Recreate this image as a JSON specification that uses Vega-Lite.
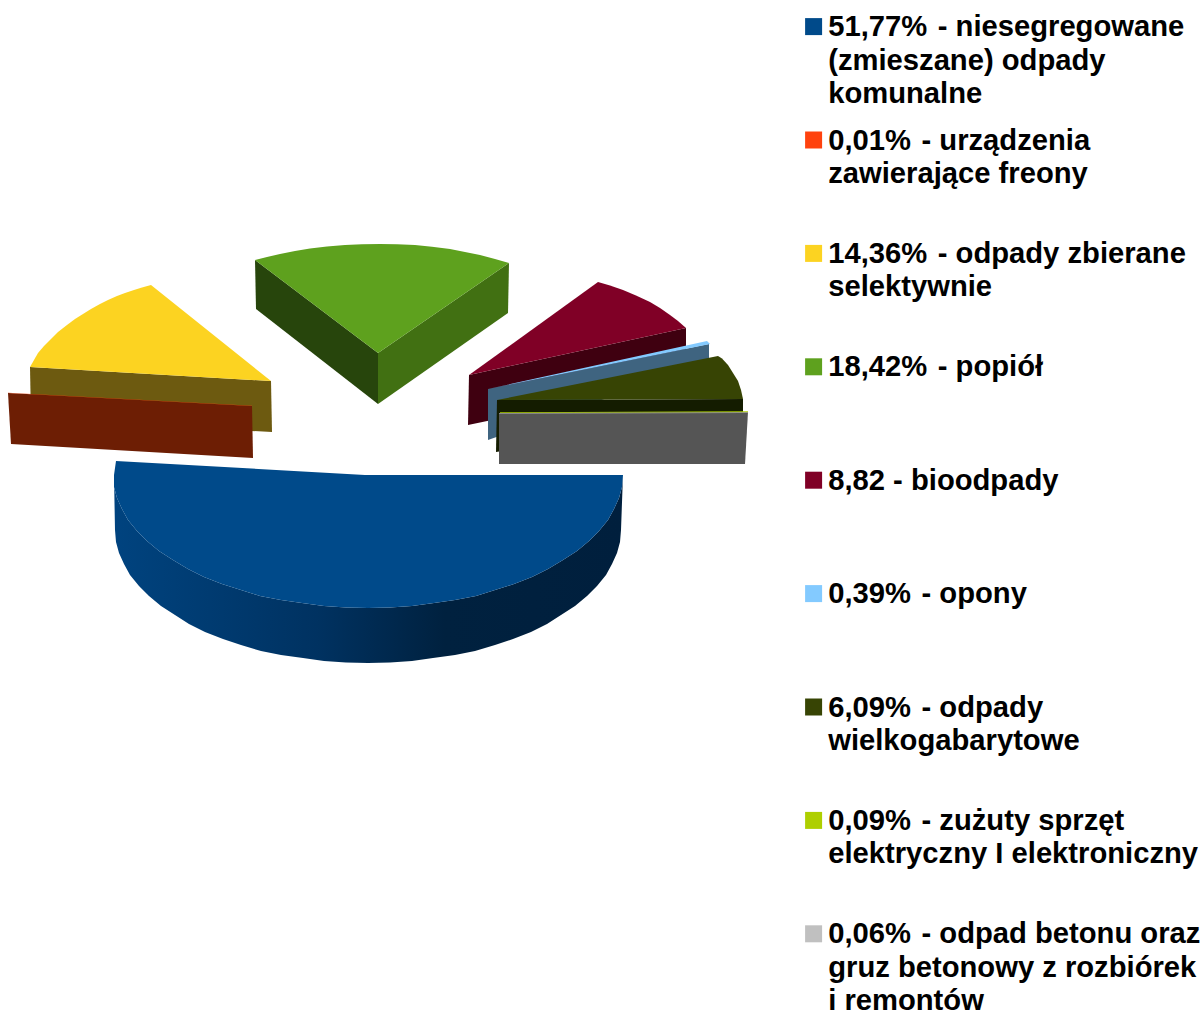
{
"$schema":"https://vega.github.io/schema/vega-lite/v6.json",
"width":1204,"height":1012,"padding":0,"autosize":{"type":"none"},
"background":"white",
"config":{"view":{"stroke":null}},
"datasets":{
"slices":[
{"s":"a","share":51.77,"label":"51,77% \u200a- niesegregowane\n(zmieszane) odpady\nkomunalne"},
{"s":"b","share":0.01,"label":"0,01% \u200a- urządzenia\nzawierające freony"},
{"s":"c","share":14.36,"label":"14,36% \u200a- odpady zbierane\nselektywnie"},
{"s":"d","share":18.42,"label":"18,42% \u200a- popiół"},
{"s":"e","share":8.82,"label":"8,82 - bioodpady"},
{"s":"f","share":0.39,"label":"0,39% \u200a- opony"},
{"s":"g","share":6.09,"label":"6,09% \u200a- odpady\nwielkogabarytowe"},
{"s":"h","share":0.09,"label":"0,09% \u200a- zużuty sprzęt\nelektryczny I elektroniczny"},
{"s":"i","share":0.06,"label":"0,06% \u200a- odpad betonu oraz\ngruz betonowy z rozbiórek\ni remontów"}
],
"blueSide":[
{"o":0,"x":623,"y":475},{"o":1,"x":622,"y":487},{"o":2,"x":619,"y":498},{"o":3,"x":614,"y":509},{"o":4,"x":608,"y":520},{"o":5,"x":599,"y":531},{"o":6,"x":589,"y":541},{"o":7,"x":577,"y":551},{"o":8,"x":563,"y":560},{"o":9,"x":548,"y":569},{"o":10,"x":532,"y":577},{"o":11,"x":514,"y":584},{"o":12,"x":495,"y":590},{"o":13,"x":476,"y":596},{"o":14,"x":455,"y":600},{"o":15,"x":434,"y":603},{"o":16,"x":412,"y":606},{"o":17,"x":390,"y":607.5},{"o":18,"x":368,"y":608},{"o":19,"x":346,"y":607.5},{"o":20,"x":324,"y":606},{"o":21,"x":302,"y":603},{"o":22,"x":281,"y":600},{"o":23,"x":260,"y":596},{"o":24,"x":241,"y":590},{"o":25,"x":222,"y":584},{"o":26,"x":204,"y":577},{"o":27,"x":188,"y":569},{"o":28,"x":173,"y":560},{"o":29,"x":159,"y":551},{"o":30,"x":147,"y":541},{"o":31,"x":137,"y":531},{"o":32,"x":128,"y":520},{"o":33,"x":122,"y":509},{"o":34,"x":117,"y":498},{"o":35,"x":114,"y":487},{"o":36,"x":114,"y":475},
{"o":37,"x":115,"y":530},{"o":38,"x":116,"y":542},{"o":39,"x":119,"y":553},{"o":40,"x":124,"y":564},{"o":41,"x":130,"y":575},{"o":42,"x":139,"y":586},{"o":43,"x":149,"y":596},{"o":44,"x":161,"y":606},{"o":45,"x":175,"y":615},{"o":46,"x":189,"y":624},{"o":47,"x":205,"y":632},{"o":48,"x":223,"y":639},{"o":49,"x":241,"y":645},{"o":50,"x":261,"y":651},{"o":51,"x":281,"y":655},{"o":52,"x":303,"y":658},{"o":53,"x":324,"y":661},{"o":54,"x":346,"y":662.5},{"o":55,"x":368,"y":663},{"o":56,"x":390,"y":662.5},{"o":57,"x":412,"y":661},{"o":58,"x":433,"y":658},{"o":59,"x":455,"y":655},{"o":60,"x":475,"y":651},{"o":61,"x":495,"y":645},{"o":62,"x":513,"y":639},{"o":63,"x":531,"y":632},{"o":64,"x":547,"y":624},{"o":65,"x":561,"y":615},{"o":66,"x":575,"y":606},{"o":67,"x":587,"y":596},{"o":68,"x":597,"y":586},{"o":69,"x":606,"y":575},{"o":70,"x":612,"y":564},{"o":71,"x":617,"y":553},{"o":72,"x":620,"y":542},{"o":73,"x":621,"y":530}
],
"sides":[
{"p":"yellow","o":0,"x":30,"y":367},{"p":"yellow","o":1,"x":271,"y":381},{"p":"yellow","o":2,"x":272,"y":432},{"p":"yellow","o":3,"x":31,"y":420},
{"p":"orange","o":0,"x":8,"y":393},{"p":"orange","o":1,"x":252,"y":406},{"p":"orange","o":2,"x":253,"y":458},{"p":"orange","o":3,"x":11,"y":444},
{"p":"greenL","o":0,"x":255,"y":260},{"p":"greenL","o":1,"x":378,"y":353},{"p":"greenL","o":2,"x":378,"y":404},{"p":"greenL","o":3,"x":256,"y":309},
{"p":"greenR","o":0,"x":378,"y":353},{"p":"greenR","o":1,"x":509,"y":263},{"p":"greenR","o":2,"x":508,"y":313},{"p":"greenR","o":3,"x":378,"y":404},
{"p":"maroon","o":0,"x":469,"y":375},{"p":"maroon","o":1,"x":686,"y":328},{"p":"maroon","o":2,"x":686,"y":380},{"p":"maroon","o":3,"x":468,"y":425},
{"p":"sky","o":0,"x":488,"y":389},{"p":"sky","o":1,"x":709,"y":344},{"p":"sky","o":2,"x":709,"y":362},{"p":"sky","o":3,"x":488,"y":440},
{"p":"olive","o":0,"x":497,"y":400},{"p":"olive","o":1,"x":743,"y":399},{"p":"olive","o":2,"x":743,"y":412},{"p":"olive","o":3,"x":496,"y":452},
{"p":"grey","o":0,"x":499,"y":413},{"p":"grey","o":1,"x":748,"y":412},{"p":"grey","o":2,"x":745,"y":464},{"p":"grey","o":3,"x":499,"y":464}
],
"tops":[
{"s":"a","o":0,"x":116,"y":461},{"s":"a","o":1,"x":365,"y":475},{"s":"a","o":2,"x":623,"y":475},{"s":"a","o":3,"x":622,"y":487},{"s":"a","o":4,"x":619,"y":498},{"s":"a","o":5,"x":614,"y":509},{"s":"a","o":6,"x":608,"y":520},{"s":"a","o":7,"x":599,"y":531},{"s":"a","o":8,"x":589,"y":541},{"s":"a","o":9,"x":577,"y":551},{"s":"a","o":10,"x":563,"y":560},{"s":"a","o":11,"x":548,"y":569},{"s":"a","o":12,"x":532,"y":577},{"s":"a","o":13,"x":514,"y":584},{"s":"a","o":14,"x":495,"y":590},{"s":"a","o":15,"x":476,"y":596},{"s":"a","o":16,"x":455,"y":600},{"s":"a","o":17,"x":434,"y":603},{"s":"a","o":18,"x":412,"y":606},{"s":"a","o":19,"x":390,"y":607.5},{"s":"a","o":20,"x":368,"y":608},{"s":"a","o":21,"x":346,"y":607.5},{"s":"a","o":22,"x":324,"y":606},{"s":"a","o":23,"x":302,"y":603},{"s":"a","o":24,"x":281,"y":600},{"s":"a","o":25,"x":260,"y":596},{"s":"a","o":26,"x":241,"y":590},{"s":"a","o":27,"x":222,"y":584},{"s":"a","o":28,"x":204,"y":577},{"s":"a","o":29,"x":188,"y":569},{"s":"a","o":30,"x":173,"y":560},{"s":"a","o":31,"x":159,"y":551},{"s":"a","o":32,"x":147,"y":541},{"s":"a","o":33,"x":137,"y":531},{"s":"a","o":34,"x":128,"y":520},{"s":"a","o":35,"x":122,"y":509},{"s":"a","o":36,"x":117,"y":498},{"s":"a","o":37,"x":114,"y":487},{"s":"a","o":38,"x":114,"y":475},
{"s":"b","o":0,"x":8,"y":392.8},{"s":"b","o":1,"x":252,"y":405.8},{"s":"b","o":2,"x":252,"y":406},{"s":"b","o":3,"x":8,"y":393},
{"s":"c","o":0,"x":30,"y":367},{"s":"c","o":1,"x":34,"y":360},{"s":"c","o":2,"x":38,"y":353},{"s":"c","o":3,"x":44,"y":346},{"s":"c","o":4,"x":50,"y":340},{"s":"c","o":5,"x":58,"y":332},{"s":"c","o":6,"x":67,"y":325},{"s":"c","o":7,"x":75,"y":319},{"s":"c","o":8,"x":83,"y":314},{"s":"c","o":9,"x":91,"y":309},{"s":"c","o":10,"x":100,"y":304},{"s":"c","o":11,"x":108,"y":300},{"s":"c","o":12,"x":117,"y":296},{"s":"c","o":13,"x":125,"y":293},{"s":"c","o":14,"x":134,"y":290},{"s":"c","o":15,"x":142,"y":287.5},{"s":"c","o":16,"x":151,"y":285},{"s":"c","o":17,"x":271,"y":381},
{"s":"d","o":0,"x":255,"y":260},{"s":"d","o":1,"x":267,"y":257},{"s":"d","o":2,"x":280,"y":254},{"s":"d","o":3,"x":295,"y":251},{"s":"d","o":4,"x":310,"y":248.5},{"s":"d","o":5,"x":327,"y":246.5},{"s":"d","o":6,"x":345,"y":245},{"s":"d","o":7,"x":362,"y":244.3},{"s":"d","o":8,"x":380,"y":244},{"s":"d","o":9,"x":397,"y":244.3},{"s":"d","o":10,"x":415,"y":245},{"s":"d","o":11,"x":432,"y":246.8},{"s":"d","o":12,"x":450,"y":249},{"s":"d","o":13,"x":465,"y":252},{"s":"d","o":14,"x":480,"y":255},{"s":"d","o":15,"x":495,"y":259},{"s":"d","o":16,"x":509,"y":263},{"s":"d","o":17,"x":378,"y":353},
{"s":"e","o":0,"x":469,"y":375},{"s":"e","o":1,"x":598,"y":282},{"s":"e","o":2,"x":610,"y":285.5},{"s":"e","o":3,"x":623,"y":290},{"s":"e","o":4,"x":636,"y":295.5},{"s":"e","o":5,"x":650,"y":302},{"s":"e","o":6,"x":660,"y":308},{"s":"e","o":7,"x":670,"y":315},{"s":"e","o":8,"x":678,"y":321},{"s":"e","o":9,"x":686,"y":328},
{"s":"f","o":0,"x":488,"y":389},{"s":"f","o":1,"x":707,"y":341},{"s":"f","o":2,"x":710,"y":344},
{"s":"g","o":0,"x":497,"y":400},{"s":"g","o":1,"x":718,"y":356},{"s":"g","o":2,"x":722,"y":358.5},{"s":"g","o":3,"x":728,"y":365},{"s":"g","o":4,"x":733,"y":373},{"s":"g","o":5,"x":738,"y":381},{"s":"g","o":6,"x":741,"y":390},{"s":"g","o":7,"x":743,"y":399},
{"s":"h","o":0,"x":500,"y":412.2},{"s":"h","o":1,"x":748,"y":411.2},{"s":"h","o":2,"x":748,"y":412.2},{"s":"h","o":3,"x":500,"y":413},
{"s":"i","o":0,"x":499,"y":413},{"s":"i","o":1,"x":748,"y":412.5},{"s":"i","o":2,"x":748,"y":413},{"s":"i","o":3,"x":499,"y":413.5}
]
},
"layer":[
{"data":{"name":"blueSide"},
 "mark":{"type":"line","fill":{"gradient":"linear","x1":0,"y1":0,"x2":1,"y2":0,"stops":[{"offset":0,"color":"#00437f"},{"offset":0.4,"color":"#003261"},{"offset":0.65,"color":"#00213f"},{"offset":1,"color":"#001f3d"}]},"strokeWidth":0},
 "encoding":{"x":{"field":"x","type":"quantitative","scale":{"domain":[0,1204],"nice":false,"zero":false},"axis":null},
 "y":{"field":"y","type":"quantitative","scale":{"domain":[1012,0],"nice":false,"zero":false},"axis":null},
 "order":{"field":"o"}}},
{"data":{"name":"sides"},
 "mark":{"type":"line","filled":true,"strokeWidth":0},
 "encoding":{"x":{"field":"x","type":"quantitative"},"y":{"field":"y","type":"quantitative"},
 "order":{"field":"o"},
 "fill":{"field":"p","type":"nominal","legend":null,"scale":{"domain":["yellow","orange","greenL","greenR","maroon","sky","olive","grey"],"range":["#6d5a10","#6d1e04","#27450c","#417012","#3f0010","#3f6480","#141c00","#555555"]}}}},
{"data":{"name":"tops"},
 "transform":[{"lookup":"s","from":{"data":{"name":"slices"},"key":"s","fields":["label"]}}],
 "mark":{"type":"line","filled":true,"strokeWidth":0},
 "encoding":{"x":{"field":"x","type":"quantitative"},"y":{"field":"y","type":"quantitative"},
 "order":{"field":"o"},
 "color":{"field":"label","type":"nominal",
  "scale":{"domain":["51,77% \u200a- niesegregowane\n(zmieszane) odpady\nkomunalne","0,01% \u200a- urządzenia\nzawierające freony","14,36% \u200a- odpady zbierane\nselektywnie","18,42% \u200a- popiół","8,82 - bioodpady","0,39% \u200a- opony","6,09% \u200a- odpady\nwielkogabarytowe","0,09% \u200a- zużuty sprzęt\nelektryczny I elektroniczny","0,06% \u200a- odpad betonu oraz\ngruz betonowy z rozbiórek\ni remontów"],
  "range":["#004a8a","#ff420e","#fcd321","#5ea11e","#800026","#83caff","#374404","#aecf00","#c0c0c0"]},
  "legend":{"title":null,"orient":"none","legendX":799,"legendY":12,"symbolType":"square","symbolSize":289,"symbolStrokeWidth":0,"gridAlign":"all","columns":1,"rowPadding":15.4,"labelFont":"Liberation Sans","labelFontWeight":"bold","labelFontSize":29.2,"labelColor":"#000000","labelLimit":420,"labelOffset":0,"labelBaseline":"top","labelExpr":"split(datum.label, '\\n')","labelOverlap":false,
  "encoding":{"labels":{"lineHeight":{"value":33.5},"dy":{"value":-13.5}}}}}}}
]
}
